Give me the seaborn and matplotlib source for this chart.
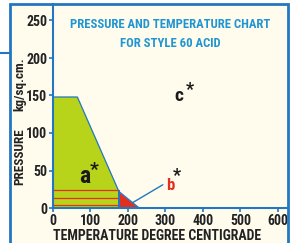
import numpy as np
import pandas as pd
import seaborn as sns
import matplotlib.pyplot as plt
from matplotlib.patches import Rectangle
from matplotlib.lines import Line2D

# data
safe_temp = [0, 0, 65, 174, 176, 176]
safe_pres = [0, 148, 148, 24, 22, 0]
limit_temp = [176, 176, 230]
limit_pres = [22, 0, 0]
ref_pres = [24, 14, 4]
ref_temp = [0, 176]
x_ticks = [0, 100, 200, 300, 400, 500, 600]
y_ticks = [0, 50, 100, 150, 200, 250]

blue = '#2277c0'
title_blue = '#1f95d2'
cream = '#fffcee'
green = '#b7d31a'
red = '#e2301f'
ink = '#1a1a1a'

sns.set_style('white', {'axes.facecolor': cream})
plt.rcParams['font.family'] = ['Roboto Condensed', 'Archivo Narrow', 'DejaVu Sans']

fig = plt.figure(figsize=(2.97, 2.43), dpi=100)
fig.patches.append(Rectangle((10/297, -0.05), 278/297, 1.05 - 4/243, transform=fig.transFigure,
                             fc=cream, ec='none', zorder=-10))
ax = fig.add_axes([53/297, 35/243, 235/297, 204/243])

ax.fill(safe_temp, safe_pres, color=green, lw=0, zorder=1)
ax.fill(limit_temp, limit_pres, color=red, lw=0, zorder=1)

for p in ref_pres:
    lines = pd.DataFrame({'t': ref_temp, 'p': [p, p]})
    sns.lineplot(data=lines, x='t', y='p', ax=ax, color=red, lw=0.9, zorder=2)

outline = pd.DataFrame({'t': [0, 65, 174, 176, 176, 176, 230],
                        'p': [148, 148, 24, 22, 0, 22, 0]})
ax.plot(outline['t'], outline['p'], color=blue, lw=0.9, zorder=3)
ax.plot([212, 293], [7, 31], color=blue, lw=1.0, zorder=3)

ax.text(85, 42, 'a', fontsize=17, fontweight='bold', color=ink, ha='center', va='center')
ax.text(110, 51, '*', fontsize=14, fontweight='bold', color=ink, ha='center', va='center')
ax.text(312, 30, 'b', fontsize=12, fontweight='bold', color=red, ha='center', va='center')
ax.text(331, 43, '*', fontsize=13, fontweight='bold', color=ink, ha='center', va='center')
ax.text(337, 149, 'c', fontsize=14, fontweight='bold', color=ink, ha='center', va='center')
ax.text(364, 158, '*', fontsize=13, fontweight='bold', color=ink, ha='center', va='center')

ax.text(312, 244, 'PRESSURE AND TEMPERATURE CHART', fontsize=9.1, fontweight='bold',
        color=title_blue, ha='center', va='center')
ax.text(312, 219, 'FOR STYLE 60 ACID', fontsize=9.1, fontweight='bold',
        color=title_blue, ha='center', va='center')

ax.set_xlim(0, 627)
ax.set_ylim(0, 272)
ax.set_xticks(x_ticks)
ax.set_yticks(y_ticks)
ax.tick_params(direction='out', length=3, width=1.2, color=blue, pad=1,
               labelsize=10, labelcolor='#222222', left=True, bottom=True)
for lab in ax.get_xticklabels() + ax.get_yticklabels():
    lab.set_fontweight('bold')
for side in ['top', 'right']:
    ax.spines[side].set_visible(False)
for side in ['left', 'bottom']:
    ax.spines[side].set_color(blue)
    ax.spines[side].set_linewidth(1.5)
ax.set_xlabel('')
ax.set_ylabel('')

fig.text(157/297, 1 - 236/243, 'TEMPERATURE DEGREE CENTIGRADE', fontsize=10,
         fontweight='bold', color='#222222', ha='center', va='center')
fig.text(20/297, 1 - 157/243, 'PRESSURE', fontsize=9.5, fontweight='bold',
         color='#222222', ha='center', va='center', rotation=90)
fig.text(20/297, 1 - 84/243, 'kg/sq.cm.', fontsize=9.5, fontweight='bold',
         color='#222222', ha='center', va='center', rotation=90)

fig.patches.append(Rectangle((10/297, -0.05), 278/297, 1.05 - 4/243, transform=fig.transFigure,
                             fill=False, ec=blue, lw=2, zorder=10))
fig.lines.append(Line2D([0, 10/297], [1 - 53/243, 1 - 53/243], transform=fig.transFigure,
                        color=blue, lw=1.5))

fig.savefig('out.png', dpi=100, facecolor='white')
